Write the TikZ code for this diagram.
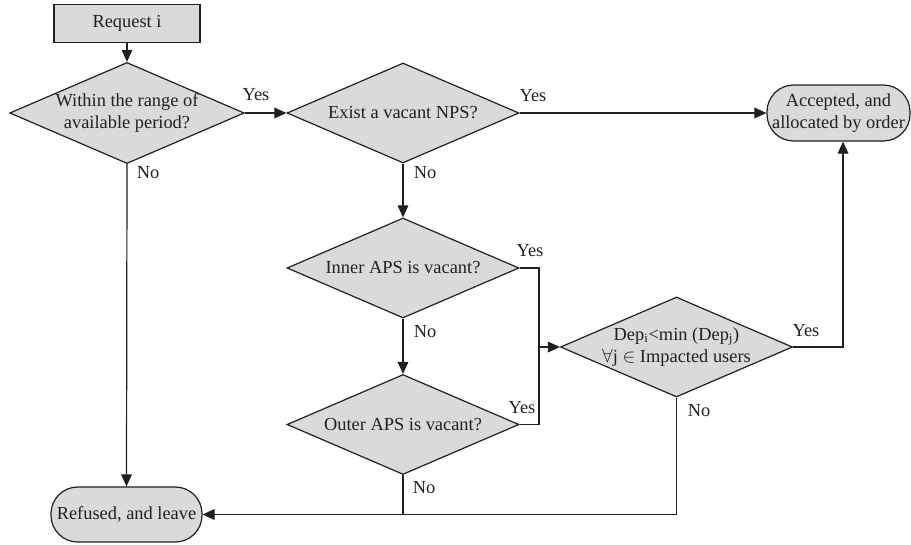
\documentclass[tikz,border=0pt]{standalone}
\usepackage{fontspec}
\setmainfont{Liberation Serif}
\usetikzlibrary{shapes.geometric,arrows.meta}
\definecolor{boxfill}{RGB}{218,218,218}
\definecolor{ink}{RGB}{35,31,32}
\begin{document}
\begin{tikzpicture}[x=0.75pt,y=-0.75pt,
  every node/.style={font=\fontsize{13.8}{17}\selectfont, text=ink},
  line/.style={draw=ink, line width=0.9pt},
  arr/.style={line, -{Triangle[length=9pt,width=8pt]}},
  procbox/.style={draw=ink, line width=0.9pt, fill=boxfill, minimum width=109.5pt, minimum height=28.5pt, inner sep=0pt},
  decision/.style={diamond, draw=ink, line width=0.9pt, fill=boxfill, aspect=2.32, inner sep=0pt, minimum width=174pt, minimum height=75pt, align=center},
  terminal/.style={draw=ink, line width=0.9pt, fill=boxfill, rounded corners=20pt, inner sep=0pt, align=center},
  lbl/.style={inner sep=0pt}
]
\useasboundingbox (0,0) rectangle (911,544);
\node[procbox] (req) at (127,23.5) {Request i};
\node[decision] (d1) at (127,113) {Within the range of\\available period?};
\node[decision] (d2) at (403,113) {Exist a vacant NPS?};
\node[decision] (d3) at (403,268) {Inner APS is vacant?};
\node[decision] (d4) at (403,424.5) {Outer APS is vacant?};
\node[decision, inner sep=-4pt] (d5) at (676.5,347) {Dep\textsubscript{i}<min (Dep\textsubscript{j})\\$\forall$j $\in$ Impacted users};
\node[terminal, minimum width=107.25pt, minimum height=42pt] (acc) at (838.5,113) {Accepted, and\\allocated by order};
\node[terminal, minimum width=113.25pt, minimum height=41.25pt] (ref) at (126.5,514.5) {Refused, and leave};
\coordinate (jn) at (539,347);

\draw[arr] (req.south) -- (d1.north);
\draw[arr] (d1.east) -- (d2.west);
\draw[arr] (d2.east) -- (acc.west);
\draw[arr] (d2.south) -- (d3.north);
\draw[arr] (d3.south) -- (d4.north);
\draw[line] (d3.east) -| (jn) |- (d4.east);
\draw[arr] (jn) -- (d5.west);
\draw[arr] (d5.east) -| ([xshift=3.4pt]acc.south);
\draw[arr] (d1.south) -- (ref.north);
\draw[arr] (d5.south) |- (ref.east);
\draw[line] (d4.south) -- (d4.south |- ref.east);

\node[lbl] (y1) at (256,95) {Yes};
\node[lbl] (n1) at (148,173) {No};
\node[lbl] (y2) at (533,96) {Yes};
\node[lbl] (n2) at (425,173) {No};
\node[lbl] (y3) at (530,251) {Yes};
\node[lbl] (n3) at (425,332) {No};
\node[lbl] (y4) at (522,408) {Yes};
\node[lbl] (n4) at (424,488) {No};
\node[lbl] (y5) at (806,331) {Yes};
\node[lbl] (n5) at (699,411) {No};
\end{tikzpicture}
\end{document}
